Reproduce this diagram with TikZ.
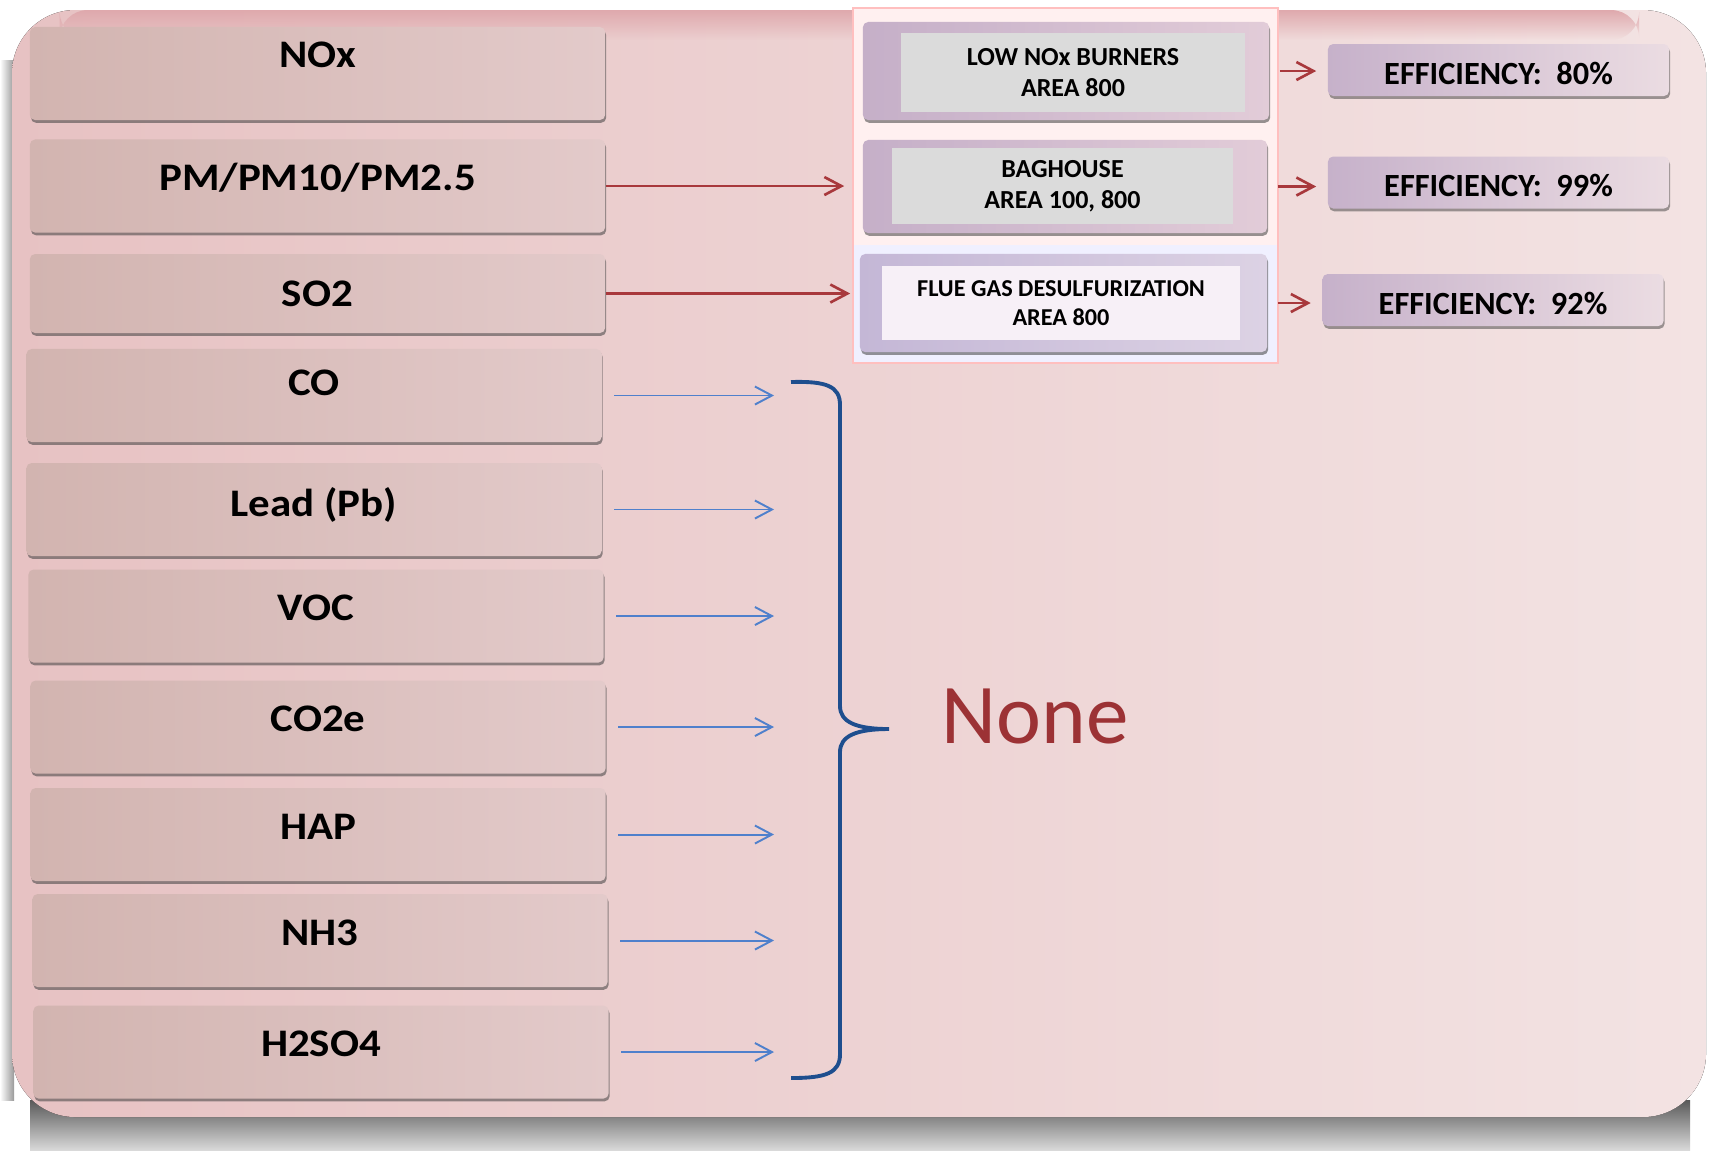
\documentclass[tikz,border=0pt]{standalone}
\usepackage{fontspec}
\setmainfont{Carlito}
\newfontfamily\widefont[FakeStretch=1.1]{Carlito}
\usetikzlibrary{arrows.meta,shadows,fadings}
\definecolor{panelL}{HTML}{E7C2C3}
\definecolor{panelR}{HTML}{F3E3E3}
\definecolor{panelTop}{HTML}{DFA9AD}
\definecolor{boxL}{HTML}{D2B4B0}
\definecolor{boxR}{HTML}{E3CACA}
\definecolor{ctrlL}{HTML}{C5AFC8}
\definecolor{ctrlR}{HTML}{E2CCD8}
\definecolor{fgdL}{HTML}{C4B7D6}
\definecolor{fgdR}{HTML}{DCD2E4}
\definecolor{effL}{HTML}{C6B1CA}
\definecolor{effR}{HTML}{EBDCE2}
\definecolor{redline}{HTML}{A8383C}
\definecolor{blueline}{HTML}{4F80CC}
\definecolor{bracecol}{HTML}{1E4E8E}
\definecolor{nonecol}{HTML}{9C3235}
\begin{document}
\begin{tikzpicture}[x=0.01cm,y=-0.01cm,
  pollutant/.style={minimum width=5.75cm,minimum height=0.93cm,inner sep=0pt,
    text height=0.30cm,text depth=0.21cm,left color=boxL,right color=boxR,
    rounded corners=1.5pt,font=\widefont\bfseries\fontsize{11.1}{13}\selectfont,
    drop shadow={shadow xshift=0.3pt,shadow yshift=-0.8pt,fill=black!75,opacity=0.55}},
  control/.style={inner sep=0pt,left color=ctrlL,right color=ctrlR,rounded corners=1.5pt,
    drop shadow={shadow xshift=0.3pt,shadow yshift=-0.8pt,fill=black!75,opacity=0.55}},
  ctrltext/.style={inner sep=0pt,fill=black!14,align=center,
    font=\bfseries\fontsize{7.4}{8.8}\selectfont},
  eff/.style={minimum width=3.41cm,minimum height=0.52cm,inner sep=0pt,
    text height=0.28cm,text depth=0cm,
    left color=effL,right color=effR,rounded corners=1.5pt,
    font=\bfseries\fontsize{9.2}{10}\selectfont,
    drop shadow={shadow xshift=0.3pt,shadow yshift=-0.8pt,fill=black!75,opacity=0.5}},
  redarrow/.style={draw=redline,line width=0.75pt,-{Straight Barb[length=0.17cm,width=0.18cm]}},
  bluearrow/.style={draw=blueline,line width=0.55pt,shorten <=0.12cm,
    -{Straight Barb[length=0.17cm,width=0.18cm]}}]
% page and shadow
\fill[white] (0,0) rectangle (1710,1150);
\fill[top color=black!65,bottom color=black!15] (30,1100) rectangle (1690,1150);
\fill[left color=white,right color=black!40] (0,60) rectangle (14,1100);
% backdrop
\fill[left color=panelL,right color=panelR,rounded corners=18pt] (12,10) rectangle (1706,1117);
\fill[panelTop,path fading=south,rounded corners=8pt] (60,10) rectangle (1640,40);
% panel behind the controls
\fill[red!6!white] (853,8) rectangle (1278,245);
\fill[blue!6!white] (853,245) rectangle (1278,363);
\draw[red!25!white,line width=0.4pt] (853,8) rectangle (1278,363);

% pollutants
\node[pollutant,text depth=0.43cm] (nox) at (317.5,73.5) {NOx};
\node[pollutant] (pm)   at (317.5,186)   {PM/PM10/PM2.5};
\node[pollutant,minimum height=0.79cm,text height=0.46cm] (so2) at (317.5,293.5) {SO2};
\node[pollutant,text depth=0.31cm] (co) at (314,395.5) {CO};
\node[pollutant,text height=0.34cm] (lead) at (314,509.5) {Lead (Pb)};
\node[pollutant] (voc)  at (316,616)     {VOC};
\node[pollutant] (co2e) at (318,727)     {CO2e};
\node[pollutant] (hap)  at (318,834.5)   {HAP};
\node[pollutant] (nh3)  at (320,940.5)   {NH3};
\node[pollutant] (hso)  at (321,1052)    {H2SO4};

% controls
\node[control,minimum width=4.06cm,minimum height=0.98cm] (burner) at (1066,71) {};
\node[ctrltext,minimum width=3.44cm,minimum height=0.79cm] (burnertxt) at (1073,72.5)
  {LOW NOx BURNERS\\AREA 800};
\node[control,minimum width=4.04cm,minimum height=0.93cm] (bag) at (1065,186.5) {};
\node[ctrltext,minimum width=3.41cm,minimum height=0.76cm] (bagtxt) at (1062.5,186)
  {BAGHOUSE\\AREA 100, 800};
\node[control,left color=fgdL,right color=fgdR,minimum width=4.07cm,minimum height=0.98cm] (fgd) at (1063.5,303) {};
\node[ctrltext,fill=violet!6!white,font=\bfseries\fontsize{6.9}{8.2}\selectfont,
  minimum width=3.58cm,minimum height=0.74cm] (fgdtxt) at (1061,303)
  {FLUE GAS DESULFURIZATION\\AREA 800};

% efficiencies
\node[eff] (eff1) at (1498.5,70)  {EFFICIENCY:\ \ 80\%};
\node[eff] (eff2) at (1498.5,182.5) {EFFICIENCY:\ \ 99\%};
\node[eff] (eff3) at (1493,300)   {EFFICIENCY:\ \ 92\%};

\draw[redarrow,shorten <=0.1cm,shorten >=0.11cm] (burner.east) -- (burner.east -| eff1.west);
\draw[redarrow,shorten <=0.1cm,shorten >=0.11cm] (bag.east) -- (bag.east -| eff2.west);
\draw[redarrow,shorten <=0.1cm,shorten >=0.11cm] (fgd.east) -- (fgd.east -| eff3.west);
\draw[redarrow,shorten >=0.18cm] (pm.east) -- (pm.east -| bag.west);
\draw[redarrow,shorten >=0.09cm] (so2.east) -- (so2.east -| fgd.west);

% no control
\coordinate (stop) at (774,0);
\foreach \p in {co,lead,voc,co2e,hap,nh3,hso}
  \draw[bluearrow] (\p.east) -- (\p.east -| stop);
\draw[bracecol,line width=1.1pt] (791,382) .. controls (826,381) and (840,386) .. (840,405)
  -- (840,706) .. controls (840,722) and (856,729) .. (889,729)
  .. controls (856,729) and (840,736) .. (840,752)
  -- (840,1054) .. controls (840,1073) and (826,1078) .. (791,1078);
\node[text=nonecol,font=\fontsize{24.2}{28}\selectfont] (none) at (1035,716) {None};
\end{tikzpicture}
\end{document}
